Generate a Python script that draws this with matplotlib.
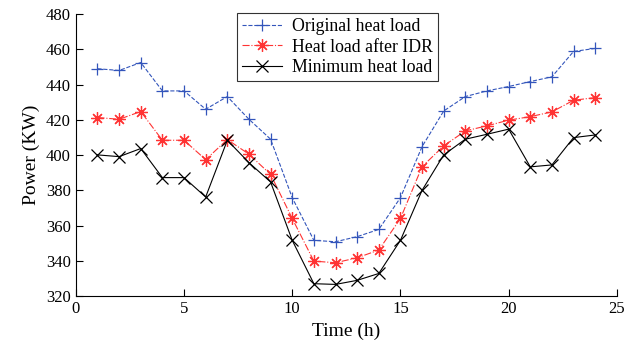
import numpy as np
import matplotlib.pyplot as plt

plt.rcParams['font.family'] = ['Liberation Serif', 'DejaVu Serif']

hours = list(range(1, 25))
original = [449, 448, 452.5, 436.4, 436.4, 426, 433.2, 420.3, 409, 375.8, 351.6, 350.8,
            353.7, 357.8, 375.8, 404.8, 425, 433.2, 436.4, 438.9, 441.7, 444.4, 458.8, 460.5]
after_idr = [421.3, 420.3, 424.7, 408.4, 408.4, 397.4, 408.8, 400.5, 389, 364, 339.8, 338.9,
             341.7, 346.1, 364, 393.4, 405.2, 413.7, 416.6, 419.8, 421.8, 424.5, 431.1, 432.6]
minimum = [400.1, 399.1, 403.7, 387.2, 387.2, 376.2, 408.4, 395.7, 384.7, 351.6, 327, 326.6,
           328.9, 332.8, 351.6, 380, 400.1, 409, 411.8, 414.7, 393.3, 394.4, 409.9, 411.4]

fig = plt.figure(figsize=(6.32, 3.52), dpi=100)
ax = fig.add_axes([0.120, 0.159, 0.856, 0.801])

ax.plot(hours, original, color='#3355bb', linestyle='--', linewidth=0.8,
        marker='+', markersize=9, markeredgewidth=0.9, label='Original heat load')
ax.plot(hours, after_idr, color='#ff3333', linestyle='-.', linewidth=0.8,
        marker=(8, 2, 0), markersize=9, markeredgewidth=0.9, label='Heat load after IDR')
ax.plot(hours, minimum, color='black', linestyle='-', linewidth=0.8,
        marker='x', markersize=9, markeredgewidth=0.9, label='Minimum heat load')

ax.set_xlim(0, 25)
ax.set_ylim(320, 480)
ax.set_xticks(np.arange(0, 26, 5))
ax.set_yticks(np.arange(320, 481, 20))
ax.spines['top'].set_visible(False)
ax.spines['right'].set_visible(False)
ax.tick_params(direction='in', labelsize=12, length=5)
ax.set_xlabel('Time (h)', fontsize=14)
ax.set_ylabel('Power (KW)', fontsize=14)

leg = ax.legend(loc='upper left', bbox_to_anchor=(0.298, 1.005), fontsize=12.8,
                fancybox=False, edgecolor='black', handlelength=2.2,
                borderpad=0.3, labelspacing=0.2, handletextpad=0.6, borderaxespad=0)
leg.get_frame().set_linewidth(0.8)

fig.savefig('out.png', dpi=100)
